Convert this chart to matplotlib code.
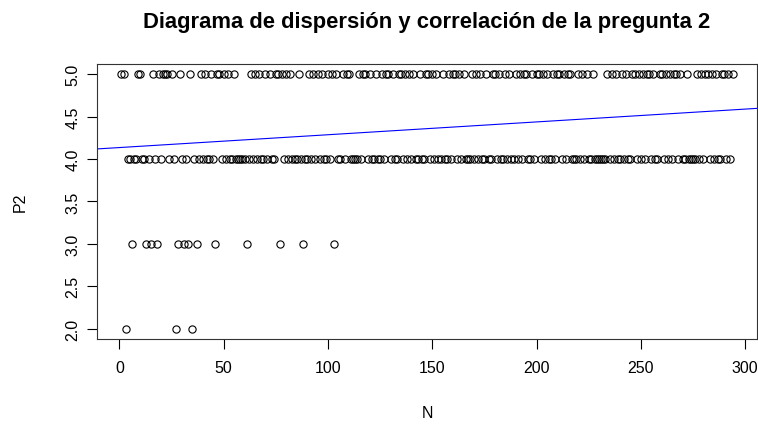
import numpy as np
import matplotlib
matplotlib.use("Agg")
import matplotlib.pyplot as plt

plt.rcParams['font.family'] = ['Liberation Sans', 'DejaVu Sans']

title = "Diagrama de dispersión y correlación de la pregunta 2"
xlabel = "N"
ylabel = "P2"
xticks = [0, 50, 100, 150, 200, 250, 300]
yticks = [2.0, 2.5, 3.0, 3.5, 4.0, 4.5, 5.0]

p2 = [
    5, 5, 2, 4, 4, 3, 4, 4, 5, 5,
    4, 4, 3, 4, 3, 5, 4, 3, 5, 4,
    5, 5, 5, 4, 5, 4, 2, 3, 5, 4,
    3, 4, 3, 5, 2, 4, 3, 4, 5, 4,
    5, 4, 4, 5, 4, 3, 5, 5, 4, 5,
    4, 5, 4, 4, 5, 4, 4, 4, 4, 4,
    3, 4, 5, 4, 5, 4, 5, 4, 4, 5,
    4, 5, 4, 4, 5, 5, 3, 5, 4, 5,
    4, 5, 4, 4, 4, 5, 4, 3, 4, 4,
    5, 4, 5, 4, 5, 4, 5, 4, 4, 5,
    4, 5, 3, 5, 4, 4, 5, 4, 5, 5,
    4, 4, 4, 4, 5, 4, 5, 5, 4, 5,
    4, 4, 5, 4, 4, 5, 4, 5, 5, 4,
    5, 4, 4, 5, 5, 4, 5, 4, 5, 4,
    5, 4, 4, 5, 4, 4, 5, 5, 4, 5,
    4, 5, 4, 4, 5, 4, 4, 5, 4, 5,
    5, 4, 5, 4, 5, 4, 4, 4, 5, 4,
    5, 4, 5, 4, 4, 5, 4, 4, 5, 5,
    4, 5, 4, 4, 5, 4, 5, 4, 4, 5,
    4, 5, 4, 5, 5, 4, 4, 5, 4, 5,
    5, 4, 5, 4, 5, 4, 4, 5, 4, 5,
    5, 4, 5, 4, 5, 5, 4, 4, 4, 5,
    4, 5, 4, 5, 4, 4, 5, 4, 4, 4,
    4, 4, 4, 5, 4, 5, 4, 5, 4, 4,
    5, 4, 5, 4, 4, 5, 5, 4, 5, 4,
    5, 4, 5, 5, 4, 5, 4, 4, 5, 5,
    4, 5, 4, 5, 4, 5, 5, 4, 5, 4,
    4, 5, 4, 4, 4, 4, 5, 4, 5, 4,
    5, 5, 4, 5, 4, 5, 4, 4, 5, 5,
    4, 5, 4, 5,
]
n = np.arange(1, len(p2) + 1)
y = np.array(p2, dtype=float)

fig = plt.figure(figsize=(7.58, 4.27), dpi=100)
ax_rect = [0.128, 0.204, 0.8707, 0.644]
ax = fig.add_axes(ax_rect)

ax.plot(n, y, linestyle='none', marker='o', markersize=5.2,
        markerfacecolor='none', markeredgecolor='black', markeredgewidth=0.8)

slope, intercept = np.polyfit(n, y, 1)
ax.axline((0, intercept), slope=slope, color='blue', linewidth=0.8)

rng = n.max() - n.min()
ax.set_xlim(n.min() - 0.04 * rng, n.max() + 0.04 * rng)
ax.set_ylim(2 - 0.12, 5 + 0.12)

ax.set_xticks(xticks)
ax.set_xticklabels([str(t) for t in xticks], fontsize=11.5)
ax.set_yticks(yticks)
ax.set_yticklabels([f"{t:.1f}" for t in yticks], fontsize=11.5, rotation=90, va='center')
ax.tick_params(axis='both', length=7, width=0.8, colors='black')
ax.tick_params(axis='x', pad=8)
ax.tick_params(axis='y', pad=5)

for s in ax.spines.values():
    s.set_linewidth(0.8)
    s.set_color('#333333')

ax.set_xlabel(xlabel, fontsize=11.5, labelpad=22)
ax.set_ylabel(ylabel, fontsize=11.5, labelpad=27)
fig.text(ax_rect[0] + ax_rect[2] / 2, 0.948, title, fontsize=15.8,
         fontweight='bold', ha='center', va='center')

fig.savefig("out.png", dpi=100)
